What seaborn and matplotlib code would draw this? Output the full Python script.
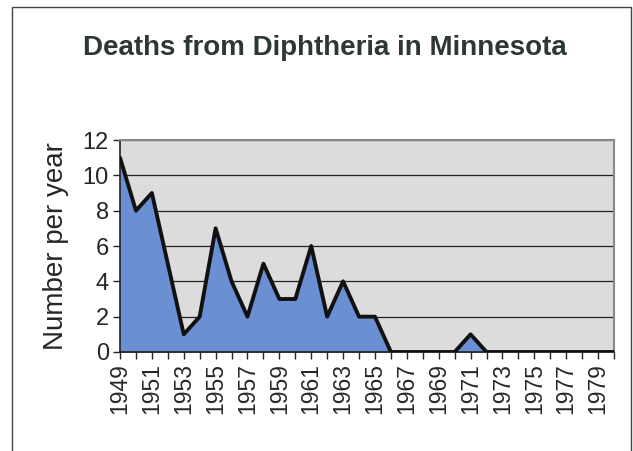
import numpy as np
import pandas as pd
import seaborn as sns
import matplotlib.pyplot as plt
from matplotlib.patches import Rectangle

# Deaths from diphtheria in Minnesota
years = list(range(1949, 1981))
deaths = [11, 8, 9, 5, 1, 2, 7, 4, 2, 5, 3, 3, 6, 2, 4, 2, 2, 0,
          0, 0, 0, 0, 1, 0, 0, 0, 0, 0, 0, 0, 0, 0]
label_years = list(range(1949, 1981, 2))

df = pd.DataFrame({'year': years, 'deaths': deaths})

sns.set_style('white')
plt.rcParams['font.family'] = ['Liberation Sans', 'DejaVu Sans']

fig = plt.figure(figsize=(6.33, 4.51), dpi=100)
ax = fig.add_axes([120 / 633, 1 - 352 / 451, (614 - 120) / 633, (352 - 140) / 451])

# outer chart border
fig.patches.append(Rectangle((12 / 633, -0.05), (631 - 12) / 633, 1.05 - 7 / 451,
                             transform=fig.transFigure, fill=False,
                             edgecolor='#444444', linewidth=1.0))

ax.set_facecolor('#dcdcdc')
ax.fill_between(df['year'], df['deaths'], color='#6b8fd3', zorder=2)
sns.lineplot(data=df, x='year', y='deaths', color='#111111', linewidth=2.8,
             ax=ax, zorder=3)

for y in range(2, 13, 2):
    ax.axhline(y, color='#222222', linewidth=0.9, zorder=1)

ax.set_xlim(1949, 1980)
ax.set_ylim(0, 12)
ax.set_yticks(range(0, 13, 2))
ax.set_xticks(years, minor=False)
ax.set_xticklabels([str(y) if y in label_years else '' for y in years],
                   rotation=90, fontsize=16.5)
ax.tick_params(axis='y', labelsize=17, length=5, width=1, direction='out',
               left=True, pad=3)
ax.tick_params(axis='x', length=5, width=1, direction='out', bottom=True, pad=3)

for side in ['top', 'right']:
    ax.spines[side].set_color('#888888')
    ax.spines[side].set_linewidth(1.5)
for side in ['left', 'bottom']:
    ax.spines[side].set_color('#222222')
    ax.spines[side].set_linewidth(1.2)

ax.set_xlabel('')
ax.set_ylabel('Number per year', fontsize=20, labelpad=10)

fig.text(325 / 633, 1 - 48 / 451, 'Deaths from Diphtheria in Minnesota',
         ha='center', va='center', fontsize=20, fontweight='bold',
         color='#2e3833')

fig.savefig('out.png', dpi=100)
